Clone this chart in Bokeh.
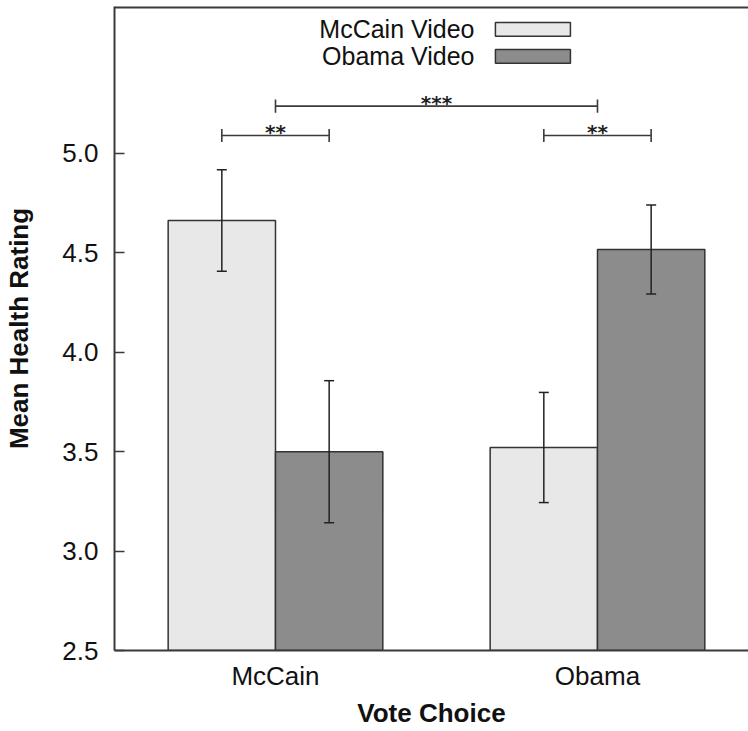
from bokeh.plotting import figure
from bokeh.models import (Range1d, FixedTicker, LinearAxis, Whisker, TeeHead,
                          ColumnDataSource, NumeralTickFormatter)
from bokeh.core.properties import value
from bokeh.embed import file_html
from bokeh.resources import INLINE

# ---------------- data ----------------
vote_choice = ["McCain", "Obama"]
video_conditions = ["McCain Video", "Obama Video"]
mean_mccain_video = [4.663, 3.521]
mean_obama_video = [3.500, 4.517]
se_mccain_video = [0.255, 0.277]
se_obama_video = [0.357, 0.224]
y_ticks = [2.5, 3.0, 3.5, 4.0, 4.5, 5.0]
sig_labels = ["**", "***", "**"]

# ---------------- layout / style ----------------
FONT = "Liberation Sans"
AXIS_COLOR = "#3a3a3a"
EDGE = "#333333"
FILLS = ["#e8e8e8", "#8c8c8c"]
BAR_W = 1.0 / 3.0
Y_MIN, Y_MAX = 2.5, 5.739
X_MIN, X_MAX = 0.0, 1.969

group_x = [i + 0.5 for i in range(len(vote_choice))]
offsets = [-BAR_W / 2, BAR_W / 2]

p = figure(width=748, height=731, output_backend="svg", toolbar_location=None,
           x_range=Range1d(X_MIN, X_MAX), y_range=Range1d(Y_MIN, Y_MAX),
           min_border_left=114, min_border_right=0, min_border_top=6,
           min_border_bottom=81, x_axis_type=None, y_axis_type=None)
p.outline_line_color = None
p.xgrid.visible = False
p.ygrid.visible = False
p.background_fill_color = "white"
p.border_fill_color = "white"

# bars + error bars
series = [(mean_mccain_video, se_mccain_video), (mean_obama_video, se_obama_video)]
for s, (means, ses) in enumerate(series):
    xs = [g + offsets[s] for g in group_x]
    src = ColumnDataSource(dict(x=xs, top=means,
                                upper=[m + e for m, e in zip(means, ses)],
                                lower=[m - e for m, e in zip(means, ses)]))
    p.vbar(x="x", top="top", bottom=Y_MIN, width=BAR_W, source=src,
           fill_color=FILLS[s], line_color=EDGE, line_width=1.5)
    w = Whisker(base="x", upper="upper", lower="lower", source=src,
                dimension="height", line_color="#222222", line_width=1.5,
                level="annotation",
                upper_head=TeeHead(size=10, line_color="#222222", line_width=1.5),
                lower_head=TeeHead(size=10, line_color="#222222", line_width=1.5))
    p.add_layout(w)

# significance brackets
def bar_pos(g, s):
    return group_x[g] + offsets[s]

brackets = [
    (bar_pos(0, 0), bar_pos(0, 1), 5.09, sig_labels[0]),
    (group_x[0], group_x[1], 5.238, sig_labels[1]),
    (bar_pos(1, 0), bar_pos(1, 1), 5.09, sig_labels[2]),
]
tick_h = 0.033
bx0 = [b[0] for b in brackets]
bx1 = [b[1] for b in brackets]
by = [b[2] for b in brackets]
p.segment(x0=bx0, x1=bx1, y0=by, y1=by, line_color=AXIS_COLOR, line_width=1.6)
p.segment(x0=bx0, x1=bx0, y0=[y - tick_h for y in by], y1=[y + tick_h for y in by],
          line_color=AXIS_COLOR, line_width=1.6)
p.segment(x0=bx1, x1=bx1, y0=[y - tick_h for y in by], y1=[y + tick_h for y in by],
          line_color=AXIS_COLOR, line_width=1.6)
p.text(x=[(a + b) / 2 for a, b in zip(bx0, bx1)], y=[y + 0.016 for y in by],
       text=[b[3] for b in brackets], text_align="center", text_baseline="middle",
       text_font=value("DejaVu Sans"), text_font_size="20px",
       text_font_style="bold", text_color="#222222")

# legend (label left, swatch right)
leg_text_x = 1.118
leg_box_l, leg_box_r = 1.183, 1.416
leg_box_tops = [5.659, 5.523]
leg_box_h = 0.069
p.quad(left=leg_box_l, right=leg_box_r, top=leg_box_tops,
       bottom=[t - leg_box_h for t in leg_box_tops],
       fill_color=FILLS, line_color=EDGE, line_width=1.5)
p.text(x=leg_text_x, y=[t - leg_box_h / 2 for t in leg_box_tops], text=video_conditions,
       text_align="right", text_baseline="middle", text_font=value(FONT),
       text_font_size="25px", text_color="#111111")

# axes
yaxis = LinearAxis(ticker=FixedTicker(ticks=y_ticks),
                   formatter=NumeralTickFormatter(format="0.0"),
                   axis_label="Mean Health Rating")
yaxis.axis_line_color = AXIS_COLOR
yaxis.axis_line_width = 2
yaxis.major_tick_in = 10
yaxis.major_tick_out = 0
yaxis.major_tick_line_color = AXIS_COLOR
yaxis.major_tick_line_width = 1.5
yaxis.minor_tick_line_color = None
yaxis.major_label_standoff = 16
yaxis.major_label_text_font = FONT
yaxis.major_label_text_font_size = "26px"
yaxis.major_label_text_color = "#111111"
yaxis.axis_label_text_font = FONT
yaxis.axis_label_text_font_style = "bold"
yaxis.axis_label_text_font_size = "26px"
yaxis.axis_label_text_color = "#111111"
yaxis.axis_label_standoff = 25
p.add_layout(yaxis, "left")

xaxis = LinearAxis(ticker=FixedTicker(ticks=group_x), axis_label="Vote Choice")
xaxis.major_label_overrides = {g: name for g, name in zip(group_x, vote_choice)}
xaxis.axis_line_color = AXIS_COLOR
xaxis.axis_line_width = 2
xaxis.major_tick_in = 0
xaxis.major_tick_out = 0
xaxis.minor_tick_line_color = None
xaxis.major_label_standoff = 10
xaxis.major_label_text_font = FONT
xaxis.major_label_text_font_size = "26px"
xaxis.major_label_text_color = "#111111"
xaxis.axis_label_text_font = FONT
xaxis.axis_label_text_font_style = "bold"
xaxis.axis_label_text_font_size = "26px"
xaxis.axis_label_text_color = "#111111"
xaxis.axis_label_standoff = 4
p.add_layout(xaxis, "below")

# top border line (frame has no right edge in view)
p.segment(x0=[X_MIN], x1=[X_MAX], y0=[Y_MAX], y1=[Y_MAX], line_color=AXIS_COLOR,
          line_width=4)

open("out.html", "w").write(file_html(p, INLINE))
